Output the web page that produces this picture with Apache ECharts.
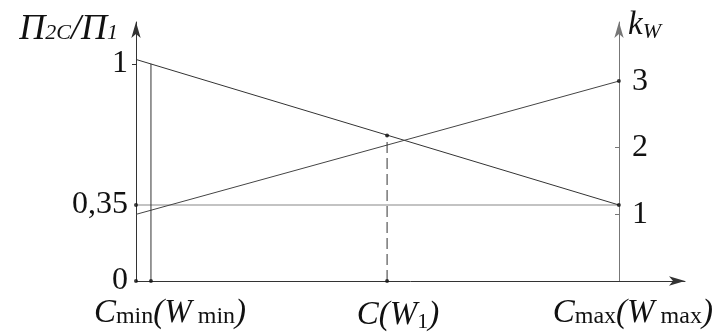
<!DOCTYPE html>
<html><head><meta charset="utf-8">
<script src="https://cdn.jsdelivr.net/npm/echarts@6/dist/echarts.min.js"></script>
<style>html,body{margin:0;padding:0;background:#fff}#c{width:717px;height:333px}</style>
</head><body><div id="c"></div>
<script>
// ---- data ----
const xTickPositions = [0.31, 5.2, 10];          // Cmin, C(W1), Cmax on an arbitrary C scale
const xTickKeys = ['cmin', 'c1', 'cmax'];
const leftTickValues = [0, 0.35, 1];
const leftTickLabels = ['0', '0,35', '1'];
const rightTickValues = [1, 2, 3];
const ratioLine = [[0, 1.02], [10, 0.35]];       // Π2C/Π1
const kwLine = [[0, 1], [10, 3]];                // kW
const levelLine = [[0, 0.35], [10, 0.35]];
const cminDrop = [[0.31, 0], [0.31, 1.0]];
const c1Drop = [[5.2, 0], [5.2, 0.67]];
const leftDots = [[0, 0], [0.31, 0], [5.2, 0], [5.2, 0.67], [0, 0.35], [10, 0.35]];
const rightDots = [[10, 3]];

const serif = 'Liberation Serif';
const chart = echarts.init(document.getElementById('c'), null, {renderer: 'canvas'});
const ink = '#111';
const lineC = '#333';

const xRich = {
  i: {fontFamily: serif, fontStyle: 'italic', fontSize: 33, color: ink},
  s: {fontFamily: serif, fontSize: 24, color: ink, padding: [6, 0, 0, 0]},
  sub: {fontFamily: serif, fontSize: 22, color: ink, padding: [14, 0, 0, 0]},
  sp1: {width: 38}, sp2: {width: 22}, sp3: {width: 28}
};
const xLabelText = {
  cmin: '{sp1|}{i|C}{s|min}{i|(W}{s| min}{i|)}',
  c1: '{sp2|}{i|C(W}{sub|1}{i|)}',
  cmax: '{sp3|}{i|C}{s|max}{i|(W}{s| max}{i|)}'
};

chart.setOption({
  animation: false,
  grid: {left: 136, right: 32, top: 22, bottom: 49},
  xAxis: {
    type: 'value', min: 0, max: 11.37,
    axisLine: {show: true, symbol: ['none', 'arrow'], symbolSize: [7, 16], lineStyle: {color: lineC, width: 1}},
    axisTick: {show: false},
    splitLine: {show: false},
    axisLabel: {
      customValues: xTickPositions, margin: 16, align: 'center',
      formatter: function (v) { const k = xTickPositions.indexOf(v); return k < 0 ? '' : xLabelText[xTickKeys[k]]; },
      rich: xRich
    }
  },
  yAxis: [
    {
      type: 'value', min: 0, max: 1.1925, position: 'left',
      name: '{P|Π}{s|2C}{P|/Π}{s|1}',
      nameLocation: 'end', nameGap: -9,
      nameTextStyle: {align: 'right', verticalAlign: 'middle', padding: [0, 18, 0, 0],
        rich: {
          P: {fontFamily: serif, fontStyle: 'italic', fontSize: 36, color: ink},
          s: {fontFamily: serif, fontStyle: 'italic', fontSize: 22, color: ink, padding: [7, 0, 0, 0]}
        }},
      axisLine: {show: true, symbol: ['none', 'arrow'], symbolSize: [7, 16], lineStyle: {color: lineC, width: 1}},
      axisTick: {show: true, customValues: [1], length: 4, inside: false, lineStyle: {color: lineC}},
      splitLine: {show: false},
      axisLabel: {
        customValues: leftTickValues, margin: 8,
        fontFamily: serif, fontSize: 32, color: ink,
        formatter: function (v) { const k = leftTickValues.indexOf(v); return k < 0 ? '' : leftTickLabels[k]; }
      }
    },
    {
      type: 'value', min: 0, max: 3.887, position: 'right', offset: -66,
      name: '{k|k}{w|W}',
      nameLocation: 'end', nameGap: -3,
      nameTextStyle: {align: 'left', verticalAlign: 'middle', padding: [0, 0, 0, 9],
        rich: {
          k: {fontFamily: serif, fontStyle: 'italic', fontSize: 33, color: ink},
          w: {fontFamily: serif, fontStyle: 'italic', fontSize: 22, color: ink, padding: [14, 0, 0, 0]}
        }},
      axisLine: {show: true, symbol: ['none', 'arrow'], symbolSize: [7, 16], lineStyle: {color: '#777', width: 1}},
      axisTick: {show: true, customValues: [1, 2], length: 4, inside: true, lineStyle: {color: '#777'}},
      splitLine: {show: false},
      axisLabel: {
        customValues: rightTickValues, margin: 13,
        fontFamily: serif, fontSize: 32, color: ink,
        formatter: function (v) { return String(v); }
      }
    }
  ],
  series: [
    {type: 'line', data: levelLine, yAxisIndex: 0, showSymbol: false, lineStyle: {color: '#888', width: 1.2}},
    {type: 'line', data: ratioLine, yAxisIndex: 0, showSymbol: false, lineStyle: {color: lineC, width: 1}},
    {type: 'line', data: kwLine, yAxisIndex: 1, showSymbol: false, lineStyle: {color: '#444', width: 1}},
    {type: 'line', data: cminDrop, yAxisIndex: 0, showSymbol: false, lineStyle: {color: lineC, width: 1}},
    {type: 'line', data: c1Drop, yAxisIndex: 0, showSymbol: false, lineStyle: {color: lineC, width: 1, type: [11, 5]}},
    {type: 'scatter', data: leftDots, yAxisIndex: 0, symbolSize: 4, itemStyle: {color: ink}, z: 5},
    {type: 'scatter', data: rightDots, yAxisIndex: 1, symbolSize: 4, itemStyle: {color: ink}, z: 5}
  ]
});
</script></body></html>
